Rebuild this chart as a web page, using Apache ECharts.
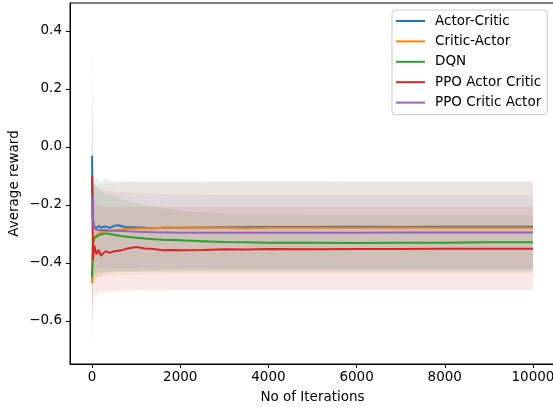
<!DOCTYPE html>
<html>
<head>
<meta charset="utf-8">
<script src="https://cdn.jsdelivr.net/npm/echarts@6/dist/echarts.min.js"></script>
<style>html,body{margin:0;padding:0;background:#fff;overflow:hidden;}#c{width:553px;height:407px;}</style>
</head>
<body>
<div id="c"></div>
<script>
const iterations = [0,20,50,100,150,200,300,400,500,600,700,800,1000,1200,1400,1600,1800,2000,2500,3000,3500,4000,5000,6000,7000,8000,9000,10000];

const seriesNames = ['Actor-Critic','Critic-Actor','DQN','PPO Actor Critic','PPO Critic Actor'];
const seriesColors = ['#1f77b4','#ff7f0e','#2ca02c','#d62728','#9467bd'];

const acMean   = [-0.03,-0.25,-0.275,-0.28,-0.272,-0.278,-0.274,-0.279,-0.272,-0.27,-0.274,-0.277,-0.277,-0.279,-0.28,-0.279,-0.279,-0.279,-0.278,-0.277,-0.277,-0.276,-0.276,-0.275,-0.276,-0.275,-0.275,-0.275];
const caMean   = [-0.47,-0.34,-0.31,-0.305,-0.30,-0.295,-0.29,-0.29,-0.288,-0.286,-0.285,-0.283,-0.281,-0.281,-0.28,-0.279,-0.279,-0.279,-0.279,-0.279,-0.28,-0.279,-0.279,-0.279,-0.279,-0.279,-0.279,-0.279];
const dqnMean  = [-0.45,-0.33,-0.315,-0.31,-0.305,-0.302,-0.298,-0.30,-0.303,-0.305,-0.308,-0.31,-0.313,-0.316,-0.318,-0.32,-0.321,-0.322,-0.325,-0.328,-0.329,-0.33,-0.33,-0.331,-0.33,-0.33,-0.329,-0.329];
const ppoAcMean= [-0.10,-0.39,-0.34,-0.37,-0.355,-0.375,-0.36,-0.365,-0.36,-0.358,-0.355,-0.35,-0.345,-0.35,-0.352,-0.356,-0.355,-0.356,-0.355,-0.353,-0.354,-0.352,-0.353,-0.352,-0.352,-0.351,-0.351,-0.351];
const ppoCaMean= [-0.17,-0.26,-0.28,-0.285,-0.287,-0.286,-0.287,-0.288,-0.289,-0.289,-0.29,-0.291,-0.292,-0.293,-0.294,-0.295,-0.295,-0.296,-0.296,-0.296,-0.296,-0.296,-0.296,-0.296,-0.295,-0.295,-0.295,-0.295];

const acUpper   = [0.30,-0.10,-0.11,-0.105,-0.115,-0.12,-0.11,-0.115,-0.12,-0.115,-0.12,-0.118,-0.12,-0.12,-0.12,-0.12,-0.12,-0.12,-0.12,-0.119,-0.118,-0.118,-0.118,-0.119,-0.119,-0.119,-0.119,-0.119];
const acLower   = [-0.60,-0.45,-0.44,-0.44,-0.43,-0.435,-0.43,-0.43,-0.43,-0.43,-0.43,-0.43,-0.43,-0.43,-0.43,-0.43,-0.43,-0.43,-0.43,-0.43,-0.43,-0.43,-0.43,-0.43,-0.43,-0.43,-0.43,-0.43];
const caUpper   = [0.20,-0.12,-0.125,-0.13,-0.125,-0.13,-0.125,-0.125,-0.123,-0.122,-0.122,-0.121,-0.12,-0.12,-0.12,-0.12,-0.12,-0.12,-0.12,-0.12,-0.12,-0.12,-0.12,-0.12,-0.12,-0.12,-0.12,-0.12];
const caLower   = [-0.65,-0.48,-0.47,-0.46,-0.455,-0.45,-0.445,-0.445,-0.443,-0.442,-0.44,-0.44,-0.44,-0.439,-0.439,-0.439,-0.438,-0.438,-0.438,-0.438,-0.438,-0.438,-0.438,-0.438,-0.438,-0.438,-0.438,-0.438];
const dqnUpper  = [0.10,-0.12,-0.13,-0.14,-0.145,-0.15,-0.16,-0.165,-0.17,-0.175,-0.18,-0.185,-0.195,-0.20,-0.205,-0.21,-0.215,-0.22,-0.225,-0.23,-0.232,-0.233,-0.234,-0.234,-0.234,-0.234,-0.234,-0.234];
const dqnLower  = [-0.70,-0.48,-0.46,-0.45,-0.44,-0.44,-0.435,-0.435,-0.43,-0.43,-0.43,-0.43,-0.43,-0.428,-0.428,-0.427,-0.427,-0.426,-0.426,-0.425,-0.425,-0.424,-0.424,-0.424,-0.424,-0.424,-0.424,-0.424];
const ppoAcUpper= [0.47,-0.16,-0.19,-0.20,-0.20,-0.205,-0.205,-0.205,-0.205,-0.206,-0.206,-0.206,-0.206,-0.206,-0.206,-0.206,-0.206,-0.206,-0.206,-0.206,-0.206,-0.206,-0.206,-0.206,-0.206,-0.206,-0.206,-0.206];
const ppoAcLower= [-0.72,-0.53,-0.51,-0.51,-0.505,-0.50,-0.50,-0.498,-0.497,-0.496,-0.495,-0.495,-0.495,-0.494,-0.494,-0.494,-0.493,-0.493,-0.493,-0.493,-0.493,-0.493,-0.493,-0.493,-0.493,-0.493,-0.493,-0.493];
const ppoCaUpper= [0.20,-0.12,-0.13,-0.14,-0.14,-0.145,-0.15,-0.15,-0.152,-0.155,-0.155,-0.157,-0.16,-0.16,-0.162,-0.163,-0.164,-0.165,-0.165,-0.166,-0.166,-0.166,-0.166,-0.166,-0.166,-0.166,-0.166,-0.166];
const ppoCaLower= [-0.55,-0.42,-0.42,-0.42,-0.42,-0.42,-0.42,-0.42,-0.42,-0.42,-0.42,-0.42,-0.42,-0.42,-0.42,-0.42,-0.42,-0.42,-0.42,-0.42,-0.42,-0.42,-0.42,-0.42,-0.42,-0.42,-0.42,-0.42];

const xTicks = [0,2000,4000,6000,8000,10000];
const yTicks = [-0.6,-0.4,-0.2,0.0,0.2,0.4];

const means  = [acMean, caMean, dqnMean, ppoAcMean, ppoCaMean];
const uppers = [acUpper, caUpper, dqnUpper, ppoAcUpper, ppoCaUpper];
const lowers = [acLower, caLower, dqnLower, ppoAcLower, ppoCaLower];

const FONT = 'DejaVu Sans';
const FS = 13.5;

function hexA(hex, a){
  const r=parseInt(hex.slice(1,3),16), g=parseInt(hex.slice(3,5),16), b=parseInt(hex.slice(5,7),16);
  return 'rgba('+r+','+g+','+b+','+a+')';
}

const series = [];
seriesNames.forEach((name, i) => {
  series.push({
    name: '_band' + i, type: 'custom', silent: true, z: 1,
    data: [[0, i]],
    encode: { x: 0, y: 1 },
    clip: true,
    renderItem: (params, api) => {
      const pts = [];
      for (let k = 0; k < iterations.length; k++) pts.push(api.coord([iterations[k], uppers[i][k]]));
      for (let k = iterations.length - 1; k >= 0; k--) pts.push(api.coord([iterations[k], lowers[i][k]]));
      return {
        type: 'polygon',
        shape: { points: pts },
        style: { fill: hexA(seriesColors[i], 0.1), stroke: null }
      };
    }
  });
});
seriesNames.forEach((name, i) => {
  series.push({
    name: name, type: 'line', showSymbol: false, symbol: 'none', z: 5,
    color: seriesColors[i],
    lineStyle: { color: seriesColors[i], width: 2 },
    data: iterations.map((x, k) => [x, means[i][k]])
  });
});

const chart = echarts.init(document.getElementById('c'), null, { renderer: 'canvas' });
chart.setOption({
  animation: false,
  backgroundColor: '#fff',
  textStyle: { fontFamily: FONT },
  grid: { left: 70, top: 3, width: 485, height: 361, show: true, borderColor: '#000', borderWidth: 1,
    backgroundColor: 'transparent', containLabel: false, outerBoundsMode: 'none' },
  legend: {
    data: seriesNames, orient: 'vertical', left: 392, top: 10,
    padding: [4, 6, 5, 4], itemGap: 6.4, itemWidth: 29, itemHeight: 2, icon: 'rect',
    backgroundColor: 'rgba(255,255,255,0.8)', borderColor: '#cccccc', borderWidth: 1, borderRadius: 3,
    textStyle: { fontFamily: FONT, fontSize: FS, color: '#000', lineHeight: 14, padding: [0, 0, 0, 5] }
  },
  xAxis: {
    type: 'value', min: -500, max: 10500,
    name: 'No of Iterations', nameLocation: 'middle', nameGap: 26, nameMoveOverlap: false,
    nameTextStyle: { fontFamily: FONT, fontSize: FS, color: '#000' },
    axisLine: { show: true, onZero: false, lineStyle: { color: '#000', width: 1 } },
    axisTick: { show: true, length: 4, customValues: xTicks, lineStyle: { color: '#000' } },
    axisLabel: { customValues: xTicks, fontFamily: FONT, fontSize: FS, color: '#000', margin: 6,
      formatter: v => String(Math.round(v)) },
    splitLine: { show: false }
  },
  yAxis: {
    type: 'value', min: -0.7485, max: 0.4965,
    name: 'Average reward', nameLocation: 'middle', nameGap: 49, nameMoveOverlap: false,
    nameTextStyle: { fontFamily: FONT, fontSize: FS, color: '#000' },
    axisLine: { show: true, onZero: false, lineStyle: { color: '#000', width: 1 } },
    axisTick: { show: true, length: 4, customValues: yTicks, lineStyle: { color: '#000' } },
    axisLabel: { customValues: yTicks, fontFamily: FONT, fontSize: FS, color: '#000', margin: 8,
      formatter: v => (v < -1e-9 ? '\u2212' : '') + Math.abs(v).toFixed(1) },
    splitLine: { show: false }
  },
  series: series
});
</script>
</body>
</html>
